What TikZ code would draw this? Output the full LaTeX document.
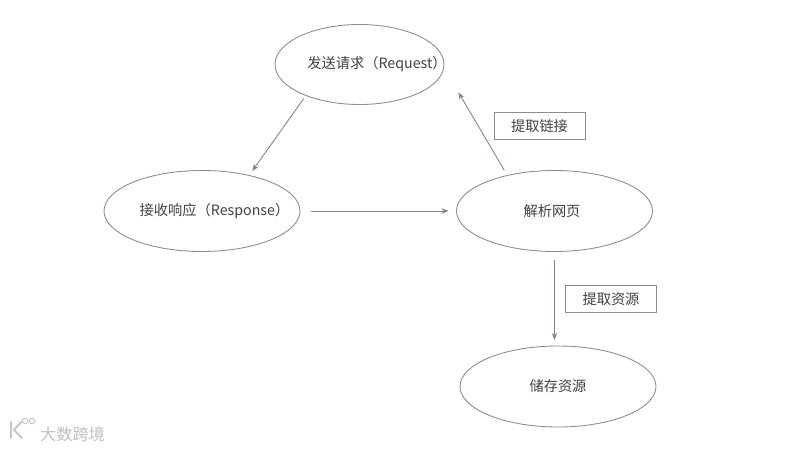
\documentclass[tikz,border=0pt]{standalone}
\usepackage{fontspec}
\setmainfont{Noto Sans CJK SC}
\usetikzlibrary{arrows.meta,shapes.geometric}
\definecolor{linegray}{RGB}{122,132,146}
\definecolor{edgegray}{RGB}{140,140,140}
\definecolor{textgray}{RGB}{64,64,64}
\tikzset{
  ellip/.style={draw=edgegray,ellipse,line width=0.5pt,inner sep=-8mm,outer sep=0pt,
    minimum width=3.92cm,minimum height=1.62cm,text=textgray,font=\fontsize{8.1}{9}\selectfont},
  tagbox/.style={draw=edgegray,line width=0.5pt,inner sep=0pt,outer sep=0pt,
    minimum width=1.82cm,minimum height=0.55cm,text=textgray,font=\fontsize{8.1}{9}\selectfont},
  conn/.style={linegray,line width=0.5pt,-{Stealth[length=1.4mm,width=1.1mm]}}
}

\begin{document}
\begin{tikzpicture}[x=1cm,y=1cm]
  \useasboundingbox (0,0) rectangle (16,9);
  \node[ellip,minimum width=3.38cm,minimum height=1.6cm] (request) at (7.19,7.71) {\hspace*{7mm}\raisebox{-0.3mm}{发送请求（Request）}};
  \node[ellip] (response) at (4.04,4.78) {\hspace*{5mm}\raisebox{-0.2mm}{接收响应（Response）}};
  \node[ellip] (parse) at (11.09,4.78) {\hspace*{-1mm}解析网页};
  \node[ellip] (store) at (11.16,1.27) {储存资源};
  \node[tagbox] (linktag) at (10.79,6.48) {\raisebox{-0.2mm}{提取链接}};
  \node[tagbox] (restag) at (12.22,3.02) {提取资源};
  \draw[conn,shorten <=0.08cm,shorten >=0.11cm] (request.210) -- (response.37);
  \draw[conn,shorten <=0.22cm,shorten >=0.16cm] (response.east) -- (parse.west);
  \draw[conn,shorten <=0.12cm,shorten >=0.58cm] (parse.143.7) -- (request.-2);
  \draw[conn,shorten <=0.16cm,shorten >=0.12cm] (parse.south) -- (parse.south |- store.north);
  % watermark
  \node[text=black!25,font=\fontsize{9.2}{10}\selectfont,inner sep=0pt] (mark) at (1.45,0.32) {大数跨境};
  \draw[black!22,line width=1.2pt,line cap=round] (0.22,0.56) -- (0.22,0.24) (0.42,0.56) -- (0.28,0.40) -- (0.44,0.24);
  \draw[black!22,line width=0.6pt] (0.5,0.58) circle (0.055) (0.64,0.58) circle (0.055);
\end{tikzpicture}
\end{document}
